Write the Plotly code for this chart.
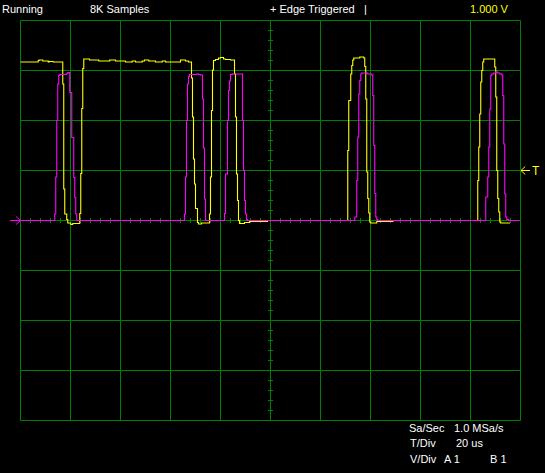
import plotly.graph_objects as go

# ---------------- data (time in us, level in V) ----------------
# Channel A (yellow) – step vertices (value holds until the next vertex)
YELLOW_T = [-100, -92.9, -92.5, -91.1, -88.9, -88.5, -86.9, -83.1, -82.7, -82.3, -81.5, -81.1,
            -79.9, -79.1, -76.3, -75.9, -75.5, -75.1, -74.7, -72.4, -68.7, -64.3, -62, -58,
            -55.3, -54, -51.3, -50.4, -48.7, -46, -43.3, -42, -36, -34, -32.8, -31.6, -31.2,
            -30.8, -30.4, -30, -29.2, -28.8, -27.6, -24.4, -24, -23.6, -23.2, -22.8, -22,
            -20.8, -20, -18.8, -18, -16, -14.4, -14, -13.6, -13.2, -12.8, -12.4, -10.4, -8.4,
            -2.4, -1.2, 30.9, 31.3, 32.1, 32.5, 32.9, 33.3, 35.7, 37.3, 37.7, 38.1, 38.5,
            38.9, 39.3, 39.7, 40.1, 42.5, 45.2, 49, 82.9, 83.3, 83.7, 84.1, 84.5, 84.9, 85.3,
            89.7, 90.1, 90.5, 90.9, 91.3, 91.7, 92.1, 95.6]
YELLOW_V = [3.17, 3.20, 3.21, 3.19, 3.17, 3.18, 3.17, 2.73, 0.63, 0.13, 0.02, -0.05,
            -0.08, -0.06, 0.14, 0.94, 2.24, 3.04, 3.23, 3.21, 3.19, 3.21, 3.19, 3.17,
            3.19, 3.17, 3.19, 3.21, 3.19, 3.17, 3.19, 3.17, 3.21, 3.19, 3.17, 2.85, 2.07,
            1.23, 0.73, 0.24, -0.04, -0.07, -0.05, 0.13, 0.87, 2.20, 3.01, 3.20, 3.22,
            3.25, 3.26, 3.23, 3.22, 3.21, 2.93, 2.07, 0.93, 0.40, 0.0, -0.06, -0.04, -0.02,
            -0.02, 0.0, 1.40, 2.40, 2.93, 3.10, 3.21, 3.25, 3.27, 3.25, 3.08, 2.43, 0.97,
            0.44, 0.15, -0.03, -0.05, -0.02, -0.02, 0.0, 0.80, 1.47, 2.13, 2.77, 3.00, 3.17,
            3.23, 3.07, 2.47, 1.00, 0.44, 0.17, -0.03, -0.05, -0.04]

# Channel B (magenta)
MAGENTA_T = [-100, -86.3, -85.9, -85.5, -85.1, -84.7, -84.3, -81.5, -81.1, -80.3, -79.5,
             -78.7, -78.3, -77.9, -77.5, -34.4, -34, -33.6, -33.2, -32.8, -32.4, -29.6,
             -28.8, -28, -27.2, -26.8, -26.4, -26, -18.4, -18, -17.2, -16.8, -16.4, -16,
             -15.2, -13.6, -11.2, -10.8, -10.4, -10, -9.6, -9.2, 33.7, 34.5, 34.9, 35.3,
             35.7, 36.1, 36.5, 37.3, 38.9, 40.5, 40.9, 41.3, 41.7, 42.1, 42.5, 42.9, 86.1,
             86.9, 87.3, 87.7, 88.1, 88.5, 89.3, 90.1, 90.9, 91.7, 92.5, 92.9, 93.3, 93.7,
             94.1, 94.5, 95.3, 99.3]
MAGENTA_V = [0.0, 0.13, 0.87, 2.00, 2.73, 2.90, 2.92, 2.94, 2.96, 2.56, 1.66,
             0.86, 0.46, 0.13, 0.0, 0.13, 0.87, 2.00, 2.73, 2.88, 2.92, 2.93,
             2.92, 2.91, 2.43, 1.45, 0.43, 0.0, 0.14, 0.93, 2.00, 2.60, 2.79, 2.92,
             2.93, 2.93, 2.00, 1.00, 0.40, 0.13, 0.02, 0.0, 0.07, 0.80, 1.67, 2.53,
             2.80, 2.93, 2.95, 2.95, 2.93, 2.91, 2.50, 1.50, 0.54, 0.07, 0.02, 0.0, 0.47,
             0.87, 1.47, 2.23, 2.90, 2.93, 2.95, 2.97, 2.95, 2.93, 2.91, 2.50, 1.53, 0.53,
             0.07, 0.02, 0.0, -0.01]

T_PER_DIV = 20          # us / div
V_PER_DIV = 1           # V / div
N_XDIV = 10
N_YDIV = 8
TRIGGER_LEVEL = 1.0     # V

TOP_LABELS = ["Running", "8K Samples", "+ Edge Triggered", "|", "1.000 V"]
INFO_ROWS = [["Sa/Sec", "1.0 MSa/s"], ["T/Div", "20 us"], ["V/Div", "A 1", "B 1"]]
TRIGGER_LABEL = "T"

# ---------------- styling / layout ----------------
W, H = 545, 473
GREEN = "rgb(0,128,0)"
YELLOW = "rgb(255,255,0)"
MAGENTA = "rgb(255,0,255)"
WHITE = "rgb(255,255,255)"
FONT = "Liberation Sans, Arial, sans-serif"
FS = 11

# pixel mapping: x_px = 270.5 + 2.5*t ; y_px = 220.5 - 50*v
X0, XS = 270.5, 2.5
Y0, YS = 220.5, 50.0
XR = [(0 - X0) / XS, (W - X0) / XS]
YR = [(Y0 - H) / YS, Y0 / YS]

half_t = T_PER_DIV * N_XDIV / 2
half_v = V_PER_DIV * N_YDIV / 2

# graticule
gx, gy = [], []
for i in range(N_XDIV + 1):
    t = -half_t + i * T_PER_DIV
    gx += [t, t, None]
    gy += [-half_v, half_v, None]
for j in range(N_YDIV + 1):
    v = -half_v + j * V_PER_DIV
    gx += [-half_t, half_t, None]
    gy += [v, v, None]
# minor ticks on the centre axes (5 per division)
tick_t = 1.0
tick_v = 0.05
for k in range(-N_XDIV * 5 // 2, N_XDIV * 5 // 2 + 1):
    t = k * T_PER_DIV / 5
    gx += [t, t, None]
    gy += [-tick_v, tick_v, None]
for k in range(-N_YDIV * 5 // 2, N_YDIV * 5 // 2 + 1):
    v = k * V_PER_DIV / 5
    gx += [-tick_t, tick_t, None]
    gy += [v, v, None]

fig = go.Figure()
fig.add_trace(go.Scatter(x=gx, y=gy, mode="lines", line=dict(color=GREEN, width=1),
                         hoverinfo="skip", showlegend=False))
fig.add_trace(go.Scatter(x=YELLOW_T, y=YELLOW_V, mode="lines", line_shape="hv",
                         line=dict(color=YELLOW, width=1.1), showlegend=False, name="A"))
fig.add_trace(go.Scatter(x=MAGENTA_T, y=MAGENTA_V, mode="lines", line_shape="hv",
                         line=dict(color=MAGENTA, width=1.1), showlegend=False, name="B"))

# ground marker (channel B) on the left and trigger marker on the right
fig.add_trace(go.Scatter(x=[-104.2, -100, None, -101.8, -100, -101.8],
                         y=[0, 0, None, 0.08, 0, -0.08], mode="lines",
                         line=dict(color=MAGENTA, width=1), hoverinfo="skip", showlegend=False))
fig.add_trace(go.Scatter(x=[100.2, 103.8, None, 101.9, 100.2, 101.9],
                         y=[TRIGGER_LEVEL, TRIGGER_LEVEL, None, TRIGGER_LEVEL + 0.08,
                            TRIGGER_LEVEL, TRIGGER_LEVEL - 0.08], mode="lines",
                         line=dict(color=YELLOW, width=1), hoverinfo="skip", showlegend=False))


def label(text, px, py, color=WHITE, anchor="left"):
    fig.add_annotation(text=text, x=px / W, y=1 - py / H, xref="paper", yref="paper",
                       xanchor=anchor, yanchor="middle", showarrow=False,
                       borderpad=0, borderwidth=0,
                       font=dict(family=FONT, size=FS, color=color))


top_x = [2.0, 90.2, 270.3, 364.0, 469.8]
top_col = [WHITE, WHITE, WHITE, WHITE, YELLOW]
for txt, px, c in zip(TOP_LABELS, top_x, top_col):
    label(txt, px, 8.7, c)

row_y = [428.1, 443.4, 458.8]
row_x = [[408.8, 454.2], [409.7, 455.6], [410.0, 444.0, 490.0]]
for row, xs, py in zip(INFO_ROWS, row_x, row_y):
    for txt, px in zip(row, xs):
        label(txt, px, py)

fig.add_annotation(text=TRIGGER_LABEL, x=531.8 / W, y=1 - 170.9 / H, xref="paper",
                   yref="paper", xanchor="left", yanchor="middle", showarrow=False,
                   borderpad=0, borderwidth=0,
                   font=dict(family=FONT, size=12, color=YELLOW))

fig.update_layout(
    width=W, height=H, autosize=False,
    margin=dict(l=0, r=0, t=0, b=0, pad=0),
    paper_bgcolor="black", plot_bgcolor="black",
    xaxis=dict(range=XR, visible=False, fixedrange=True),
    yaxis=dict(range=YR, visible=False, fixedrange=True),
    showlegend=False,
)

fig.write_html("out.html", config={"displayModeBar": False},
               post_script="document.body.style.margin='0';document.body.style.overflow='hidden';")
